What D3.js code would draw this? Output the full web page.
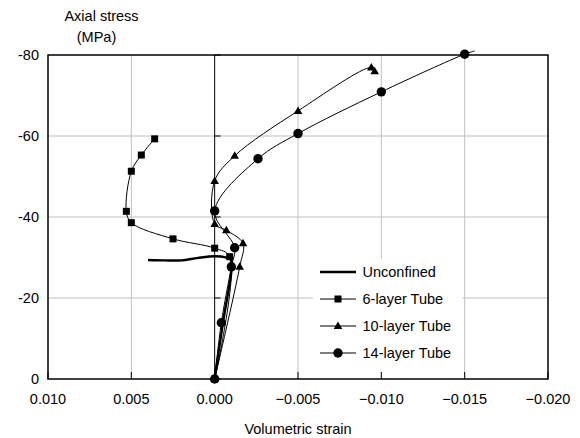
<!DOCTYPE html>
<meta charset="utf-8">
<style>
body { margin: 0; background: #fff; }
text { font-family: "Liberation Sans", Arial, sans-serif; font-size: 14.5px; fill: #000; }
.grid line { stroke: #c0c0c0; stroke-width: 1px; }
.series { fill: none; stroke: #000; }
</style>
<svg width="580" height="438"></svg>
<script src="https://cdn.jsdelivr.net/npm/d3@7"></script>
<script>

// axis ticks
var xTicks = [0.010, 0.005, 0.000, -0.005, -0.010, -0.015, -0.020];
var yTicks = [0, -20, -40, -60, -80];

// series (strain, axial stress in MPa)
var unconfinedStrain = [0, -0.0005, -0.0010, -0.0010, -0.0006, 0.0000, 0.0010, 0.0020, 0.0030, 0.0040];
var unconfinedStress = [0, -14, -26.5, -29.3, -30.1, -30.3, -29.9, -29.3, -29.3, -29.4];

var sixStrain = [0, -0.0009, 0.0000, 0.0025, 0.0050, 0.0053, 0.0050, 0.0044, 0.0036];
var sixStress = [0, -30.2, -32.3, -34.6, -38.6, -41.4, -51.3, -55.3, -59.3];

var tenStrain = [0, -0.0015, -0.0017, -0.0007, 0.0000, 0.0000, -0.0012, -0.0050, -0.0094, -0.0096];
var tenStress = [0, -27.7, -33.5, -36.7, -38.3, -48.9, -55.1, -66.2, -76.9, -76.0];

var fourteenStrain = [0, -0.0004, -0.0010, -0.0012, 0.0000, -0.0026, -0.0050, -0.0100, -0.0150, -0.0156];
var fourteenStress = [0, -13.9, -27.7, -32.4, -41.5, -54.4, -60.6, -70.9, -80.2, -81.0];

var seriesNames = ["Unconfined", "6-layer Tube", "10-layer Tube", "14-layer Tube"];

var svg = d3.select("svg"),
    margin = {left: 48, top: 55, right: 32, bottom: 59},
    width = 580 - margin.left - margin.right,
    height = 438 - margin.top - margin.bottom;

var x = d3.scaleLinear().domain([0.010, -0.020]).range([margin.left, margin.left + width]);
var y = d3.scaleLinear().domain([0, -80]).range([margin.top + height, margin.top]);

function zip(a, b) { return a.map(function(v, i) { return [v, b[i]]; }); }

var series = [
  {name: seriesNames[0], pts: zip(unconfinedStrain, unconfinedStress), marker: null, width: 2.4},
  {name: seriesNames[1], pts: zip(sixStrain, sixStress), marker: "square", width: 1},
  {name: seriesNames[2], pts: zip(tenStrain, tenStress), marker: "triangle", width: 1},
  {name: seriesNames[3], pts: zip(fourteenStrain, fourteenStress), marker: "circle", width: 1}
];

// gridlines
var grid = svg.append("g").attr("class", "grid");
grid.selectAll(".gx")
  .data(xTicks.filter(function(d) { return d !== 0.010 && d !== 0 && d !== -0.020; }))
  .enter().append("line")
    .attr("x1", x).attr("x2", x)
    .attr("y1", y(-80)).attr("y2", y(0));
grid.selectAll(".gy")
  .data(yTicks.filter(function(d) { return d !== 0 && d !== -80; }))
  .enter().append("line")
    .attr("x1", x(0.010)).attr("x2", x(-0.020))
    .attr("y1", y).attr("y2", y);

// legend background covers the grid
var legend = svg.append("g");
legend.append("rect")
  .attr("x", 313).attr("y", 259).attr("width", 149).attr("height", 113)
  .attr("fill", "#fff");

// zero line (y axis crossing) with inside ticks
svg.append("line")
  .attr("x1", x(0)).attr("x2", x(0)).attr("y1", y(-80)).attr("y2", y(0))
  .attr("stroke", "#000").attr("stroke-width", 1);
svg.selectAll(".yt").data(yTicks).enter().append("line")
  .attr("x1", x(0)).attr("x2", x(0) + 6)
  .attr("y1", y).attr("y2", y)
  .attr("stroke", "#000");
svg.selectAll(".xt").data(xTicks).enter().append("line")
  .attr("x1", x).attr("x2", x)
  .attr("y1", y(0)).attr("y2", y(0) - 7)
  .attr("stroke", "#000");

// frame
svg.append("rect")
  .attr("x", x(0.010)).attr("y", y(-80))
  .attr("width", width).attr("height", height)
  .attr("fill", "none").attr("stroke", "#000").attr("stroke-width", 1.5);

// tick labels
svg.selectAll(".xl").data(xTicks).enter().append("text")
  .attr("x", x).attr("y", 403.5)
  .attr("text-anchor", "middle")
  .text(d3.format(".3f"));
svg.selectAll(".yl").data(yTicks).enter().append("text")
  .attr("x", 39).attr("y", function(d) { return y(d) + 5; })
  .attr("text-anchor", "end")
  .text(function(d) { return d; });

// axis titles
svg.append("text").attr("x", 298).attr("y", 433.5).attr("text-anchor", "middle").text("Volumetric strain");
svg.append("text").attr("x", 101.5).attr("y", 20.5).attr("text-anchor", "middle").text("Axial stress");
svg.append("text").attr("x", 96.5).attr("y", 41.5).attr("text-anchor", "middle").text("(MPa)");

var line = d3.line()
  .x(function(d) { return x(d[0]); })
  .y(function(d) { return y(d[1]); })
  .curve(d3.curveCatmullRom.alpha(0.5));

function drawMarker(g, type, cx, cy) {
  if (type === "square") {
    g.append("rect").attr("x", cx - 3.5).attr("y", cy - 3.5).attr("width", 7).attr("height", 7);
  } else if (type === "triangle") {
    g.append("path").attr("d", "M" + cx + "," + (cy - 4.5) + "L" + (cx + 4.3) + "," + (cy + 3) + "L" + (cx - 4.3) + "," + (cy + 3) + "Z");
  } else if (type === "circle") {
    g.append("circle").attr("cx", cx).attr("cy", cy).attr("r", 4.7);
  }
}

series.forEach(function(s) {
  svg.append("path")
    .attr("class", "series")
    .attr("d", line(s.pts))
    .attr("stroke-width", s.width);
  if (!s.marker) return;
  var g = svg.append("g").attr("fill", "#000");
  s.pts.filter(function(p) { return p[1] >= -80.5; })
    .forEach(function(p) { drawMarker(g, s.marker, x(p[0]), y(p[1])); });
});

// legend entries
series.forEach(function(s, i) {
  var ly = 272 + i * 27;
  legend.append("line")
    .attr("x1", 320).attr("x2", 356).attr("y1", ly).attr("y2", ly)
    .attr("stroke", "#000").attr("stroke-width", s.width === 1 ? 1 : 2.4);
  var mg = legend.append("g").attr("fill", "#000");
  drawMarker(mg, s.marker, 338, ly);
  legend.append("text").attr("x", 362.5).attr("y", ly + 5).text(s.name);
});

</script>
